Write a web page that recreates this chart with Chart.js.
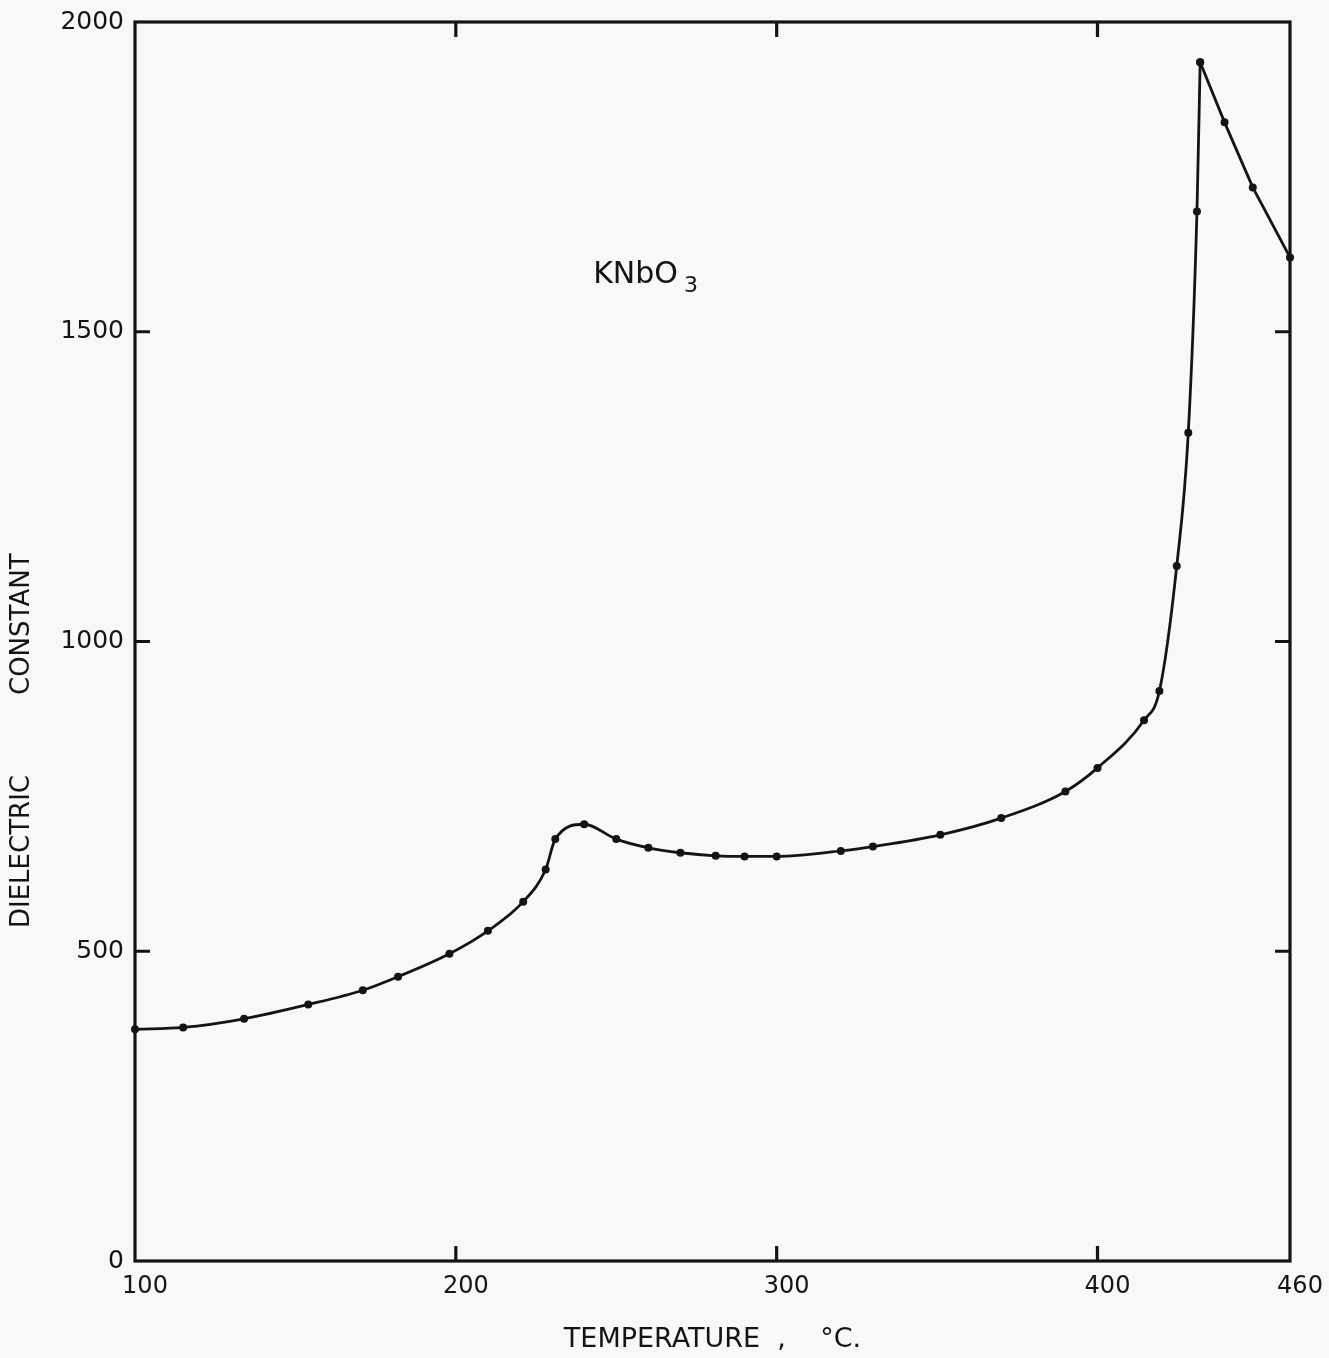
<!DOCTYPE html>
<html><head><meta charset="utf-8">
<script src="https://cdn.jsdelivr.net/npm/chart.js@4.4.0/dist/chart.umd.min.js"></script>
<style>html,body{margin:0;padding:0;background:#f8f8f6;} #wrap{width:1329px;height:1358px;position:relative;}</style>
</head><body><div id="wrap"><canvas id="c" width="1329" height="1358"></canvas></div>
<script>
// Data
const temperature = [100,115,134,154,171,182,198,210,221,228,231,240,250,260,270,281,290,300,320,330,351,370,390,400,414.5,419.3,424.7,428.3,431,432,439.6,448.4,460];
const dielectric  = [374,377,391,414,437,459,496,533,580,632,681,705,681,667,659,654,653,653,662,669,688,715,758,796,873,920,1122,1337,1694,1935,1838,1733,1620];
const xTicks = [100,200,300,400,460];
const yTicks = [0,500,1000,1500,2000];
const xTitle = 'TEMPERATURE  ,    °C.';
const yTitleA = 'DIELECTRIC';
const yTitleB = 'CONSTANT';
const labelMain = 'KNbO';
const labelSub = '3';
const labelPos = {x: 242.8, y: 1578};

const FONT = 'DejaVu Sans';
const INK = '#141414';

const points = temperature.map((t, i) => ({x: t, y: dielectric[i]}));
const peakIdx = dielectric.indexOf(Math.max(...dielectric));
const risingPart = points.slice(0, peakIdx + 1);
const fallingPart = points.slice(peakIdx);

const framePlugin = {
  id: 'frame',
  beforeDatasetsDraw(chart) {
    const {ctx, chartArea: a, scales: {x, y}} = chart;
    ctx.save();
    ctx.strokeStyle = INK;
    ctx.lineWidth = 3.2;
    ctx.strokeRect(a.left, a.top, a.right - a.left, a.bottom - a.top);
    ctx.beginPath();
    xTicks.slice(1, -1).forEach(v => {
      const px = x.getPixelForValue(v);
      ctx.moveTo(px, a.bottom); ctx.lineTo(px, a.bottom - 15);
      ctx.moveTo(px, a.top); ctx.lineTo(px, a.top + 15);
    });
    yTicks.slice(1, -1).forEach(v => {
      const py = y.getPixelForValue(v);
      ctx.moveTo(a.left, py); ctx.lineTo(a.left + 15, py);
      ctx.moveTo(a.right, py); ctx.lineTo(a.right - 15, py);
    });
    ctx.stroke();
    ctx.fillStyle = INK;
    // compound label
    const lx = x.getPixelForValue(labelPos.x);
    const ly = y.getPixelForValue(labelPos.y);
    ctx.textBaseline = 'alphabetic';
    ctx.textAlign = 'left';
    ctx.font = '30px "' + FONT + '"';
    ctx.fillText(labelMain, lx, ly);
    const w = ctx.measureText(labelMain).width;
    ctx.font = '22px "' + FONT + '"';
    ctx.fillText(labelSub, lx + w + 6, ly + 9);
    // y-axis title, two words with a wide gap
    ctx.save();
    ctx.translate(22, 0);
    ctx.rotate(-Math.PI / 2);
    ctx.font = '26px "' + FONT + '"';
    ctx.textBaseline = 'middle';
    ctx.textAlign = 'left';
    ctx.fillText(yTitleA, -928, 0);
    ctx.fillText(yTitleB, -695, 0);
    ctx.restore();
    ctx.restore();
  }
};

const lineStyle = {
  showLine: true,
  borderColor: INK,
  borderWidth: 2.8,
  pointRadius: 4,
  pointBackgroundColor: INK,
  pointBorderWidth: 0,
  clip: false
};

new Chart(document.getElementById('c'), {
  type: 'scatter',
  data: {
    datasets: [
      Object.assign({data: risingPart, cubicInterpolationMode: 'monotone'}, lineStyle),
      Object.assign({data: fallingPart, tension: 0}, lineStyle)
    ]
  },
  options: {
    responsive: false,
    animation: false,
    layout: {padding: {top: 22, right: 39, left: 0, bottom: 0}},
    plugins: {legend: {display: false}, tooltip: {enabled: false}},
    scales: {
      x: {
        type: 'linear', min: 100, max: 460,
        afterBuildTicks: s => { s.ticks = xTicks.map(v => ({value: v})); },
        afterFit: s => { s.height = 97; },
        grid: {display: false}, border: {display: false},
        ticks: {color: INK, font: {family: FONT, size: 24}, padding: 3, labelOffset: 10, maxRotation: 0, autoSkip: false,
                callback: v => String(v)},
        title: {display: true, text: xTitle, color: INK, font: {family: FONT, size: 27}, padding: {top: 0, bottom: 2}}
      },
      y: {
        type: 'linear', min: 0, max: 2000,
        afterBuildTicks: s => { s.ticks = yTicks.map(v => ({value: v})); },
        afterFit: s => { s.width = 135; },
        grid: {display: false}, border: {display: false},
        ticks: {color: INK, font: {family: FONT, size: 25}, padding: 3, autoSkip: false,
                callback: v => String(v)}
      }
    }
  },
  plugins: [framePlugin]
});
</script></body></html>
